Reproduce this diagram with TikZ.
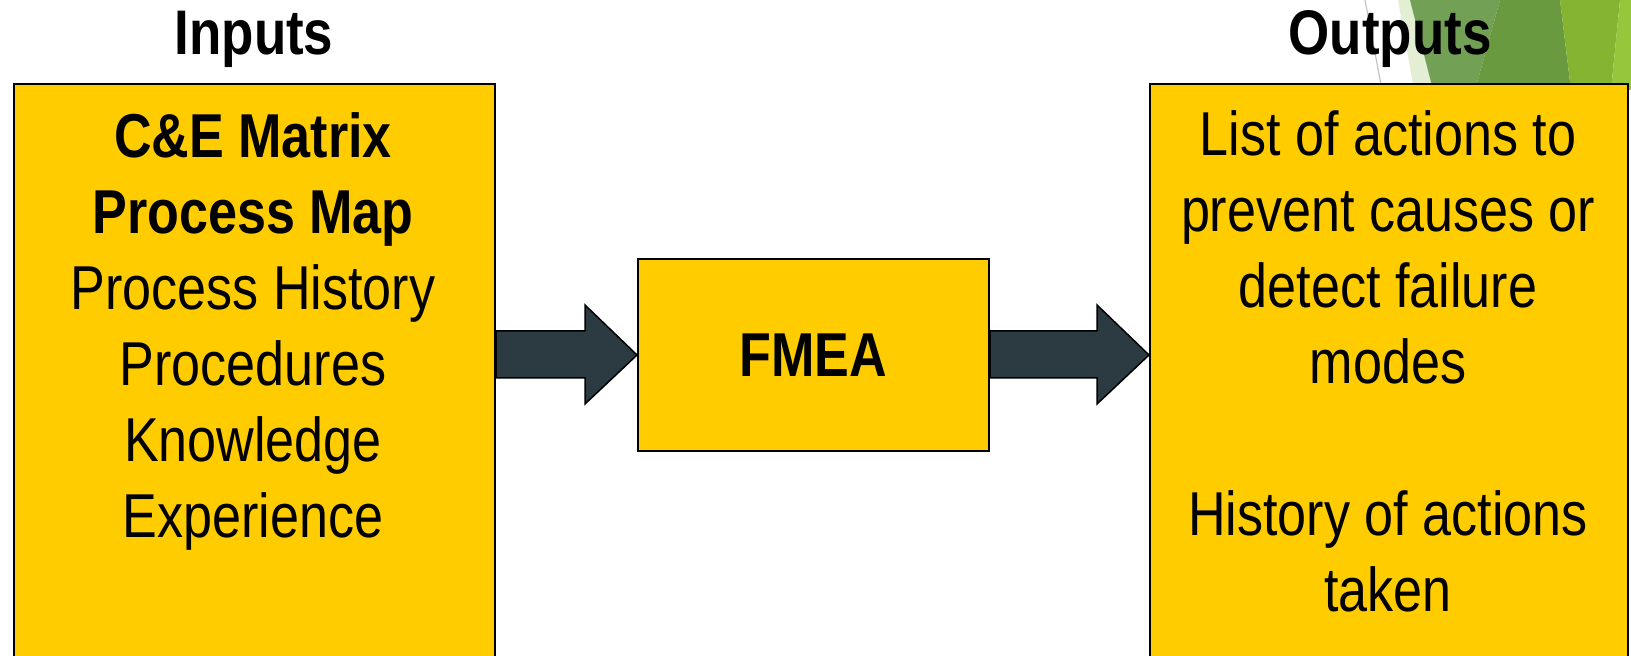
\documentclass[tikz,border=0pt]{standalone}
\usepackage{fontspec}
\setmainfont[FakeStretch=0.84]{Liberation Sans}
\usetikzlibrary{calc}
\definecolor{boxfill}{HTML}{FFCC00}
\definecolor{arrowfill}{HTML}{2C3B42}
\definecolor{facetpale}{HTML}{E4EED5}
\definecolor{facetA}{HTML}{72A155}
\definecolor{facetB}{HTML}{699A3F}
\definecolor{facetC}{HTML}{84B432}
\definecolor{facetD}{HTML}{95C63C}
\definecolor{facetline}{HTML}{C4C4C4}
\tikzset{
  box/.style={draw=black, line width=1pt, fill=boxfill, rectangle, inner sep=0pt},
  bigarrow/.style={draw=black, line width=0.75pt, fill=arrowfill, line join=miter},
  heading/.style={font=\fontsize{31.5}{36}\selectfont\bfseries, inner sep=0pt, anchor=base},
  body/.style={font=\fontsize{31}{38}\selectfont, align=center, inner sep=0pt, anchor=north},
}
\begin{document}
\begin{tikzpicture}[x=0.5pt, y=-0.5pt]
  \useasboundingbox (0,0) rectangle (1631,656);
  \clip (0,0) rectangle (1631,656);

  % faceted corner ornament
  \fill[facetpale] (1398,0) -- (1412,0) -- (1434,90) -- (1414,90) -- cycle;
  \fill[facetA] (1410,0) -- (1500,0) -- (1475,90) -- (1433,90) -- cycle;
  \fill[facetB] (1500,0) -- (1560,0) -- (1571,90) -- (1475,90) -- cycle;
  \fill[facetC] (1560,0) -- (1620,0) -- (1611,90) -- (1571,90) -- cycle;
  \fill[facetD] (1620,0) -- (1631,0) -- (1631,90) -- (1611,90) -- cycle;
  \draw[facetline, line width=0.6pt] (1365,0) -- (1382,90);

  % boxes
  \node[box, anchor=north west, minimum width=240.5pt, minimum height=330pt] (inp) at (13,83) {};
  \node[box, anchor=north west, minimum width=239pt, minimum height=330pt] (out) at (1149,83) {};
  \node[box, minimum width=175.5pt, minimum height=96pt,
        font=\fontsize{31}{38}\selectfont\bfseries] (fmea) at (813.5,355) {FMEA};

  % block arrows
  \coordinate (a1s) at (inp.north east |- fmea.west);
  \coordinate (a1t) at (fmea.west);
  \draw[bigarrow] ($(a1s)+(0,-24)$) -- ($(a1t)+(-52,-24)$) -- ($(a1t)+(-52,-50)$) -- (a1t)
     -- ($(a1t)+(-52,49)$) -- ($(a1t)+(-52,23)$) -- ($(a1s)+(0,23)$) -- cycle;
  \coordinate (a2s) at (fmea.east);
  \coordinate (a2t) at (out.north west |- fmea.east);
  \draw[bigarrow] ($(a2s)+(0,-24)$) -- ($(a2t)+(-52,-24)$) -- ($(a2t)+(-52,-50)$) -- (a2t)
     -- ($(a2t)+(-52,49)$) -- ($(a2t)+(-52,23)$) -- ($(a2s)+(0,23)$) -- cycle;

  % headings
  \node[heading] (hin) at (254,55) {Inputs};
  \node[heading] (hout) at (1390,55) {Outputs};

  % box contents
  \node[body] (tin) at (253,107) {\rule{0pt}{25pt}\textbf{C\&E Matrix}\\
    \textbf{Process Map}\\Process History\\Procedures\\Knowledge\\Experience};
  \node[body] (tout) at (1388,105) {\rule{0pt}{25pt}List of actions to\\
    prevent causes or\\detect failure\\modes\\[38pt]History of actions\\taken};
\end{tikzpicture}
\end{document}
